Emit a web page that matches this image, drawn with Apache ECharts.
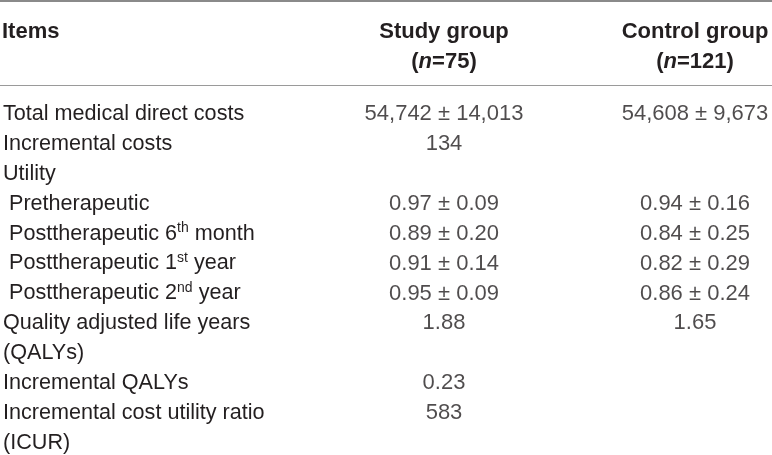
<!DOCTYPE html>
<html>
<head>
<meta charset="utf-8">
<title>Cost utility table</title>
<script src="https://cdn.jsdelivr.net/npm/echarts@6/dist/echarts.min.js"></script>
<style>
  html, body { margin: 0; padding: 0; background: #fff; }
  #main { width: 772px; height: 455px; }
</style>
</head>
<body>
<div id="main"></div>
<script>
// table content, one entry per printed line
let rowLines = [
  'Total medical direct costs',
  'Incremental costs',
  'Utility',
  ' Pretherapeutic',
  ' Posttherapeutic 6{sup|th} month',
  ' Posttherapeutic 1{sup|st} year',
  ' Posttherapeutic 2{sup|nd} year',
  'Quality adjusted life years',
  '(QALYs)',
  'Incremental QALYs',
  'Incremental cost utility ratio',
  '(ICUR)'
]
let groups = ['Study group', 'Control group']
let groupSizes = [75, 121]
let studyValues = [
  '54,742 ± 14,013', '134', '', '0.97 ± 0.09', '0.89 ± 0.20', '0.91 ± 0.14',
  '0.95 ± 0.09', '1.88', '', '0.23', '583', ''
]
let controlValues = [
  '54,608 ± 9,673', '', '', '0.94 ± 0.16', '0.84 ± 0.25', '0.82 ± 0.29',
  '0.86 ± 0.24', '1.65', '', '', '', ''
]

let font = '"Liberation Sans", Arial, Helvetica, sans-serif'
let textColor = '#231f20'
let fontSize = 22

/**
 * 把一列文字转成散点数据
 */
function cellData (values, col) {
  let out = []
  values.forEach((v, i) => {
    if (v) {
      out.push({ value: [col, i], text: v })
    }
  })
  return out
}

function cellSeries (name, values, col) {
  return {
    name: name,
    type: 'scatter',
    symbol: 'circle',
    symbolSize: 1,
    itemStyle: { color: 'rgba(0,0,0,0)' },
    silent: true,
    emphasis: { disabled: true },
    data: cellData(values, col),
    label: {
      show: true,
      position: 'inside',
      formatter: p => p.data.text,
      fontFamily: font,
      fontSize: fontSize,
      color: textColor
    }
  }
}

let chart = echarts.init(document.getElementById('main'))
chart.setOption({
  animation: false,
  backgroundColor: '#fff',
  grid: { left: 443, right: 77, top: 114, bottom: 10 },
  xAxis: {
    type: 'category',
    position: 'top',
    boundaryGap: false,
    data: groups,
    axisLine: { show: false },
    axisTick: { show: false },
    splitLine: { show: false },
    axisLabel: {
      margin: 37,
      interval: 0,
      lineHeight: 30,
      fontFamily: font,
      fontSize: fontSize,
      fontWeight: 'bold',
      color: textColor,
      formatter: (v, i) => '{b|' + v + '}\n{b|(}{bi|n}{b|=' + groupSizes[i] + ')}',
      rich: {
        b: { fontFamily: font, fontSize: fontSize, fontWeight: 'bold', color: textColor, lineHeight: 30 },
        bi: { fontFamily: font, fontSize: fontSize, fontWeight: 'bold', fontStyle: 'italic', color: textColor, lineHeight: 30 }
      }
    }
  },
  yAxis: {
    type: 'category',
    inverse: true,
    boundaryGap: false,
    data: rowLines,
    axisLine: { show: false },
    axisTick: { show: false },
    splitLine: { show: false },
    axisLabel: {
      interval: 0,
      align: 'left',
      margin: 441,
      fontFamily: font,
      fontSize: 21.6,
      lineHeight: 24,
      color: textColor,
      rich: {
        sup: { fontFamily: font, fontSize: 14, lineHeight: 14, verticalAlign: 'top', color: textColor }
      }
    }
  },
  graphic: [
    { type: 'line', shape: { x1: 0, y1: 1, x2: 772, y2: 1 }, style: { stroke: '#8a8a8a', lineWidth: 2 } },
    { type: 'line', shape: { x1: 0, y1: 85.5, x2: 772, y2: 85.5 }, style: { stroke: '#9a9a9a', lineWidth: 1 } },
    {
      type: 'text',
      x: 2,
      y: 32,
      style: {
        text: 'Items',
        fontFamily: font,
        fontSize: fontSize,
        fontWeight: 'bold',
        fill: textColor,
        verticalAlign: 'middle'
      }
    }
  ],
  series: [
    cellSeries(groups[0], studyValues, 0),
    cellSeries(groups[1], controlValues, 1)
  ]
})
</script>
</body>
</html>
